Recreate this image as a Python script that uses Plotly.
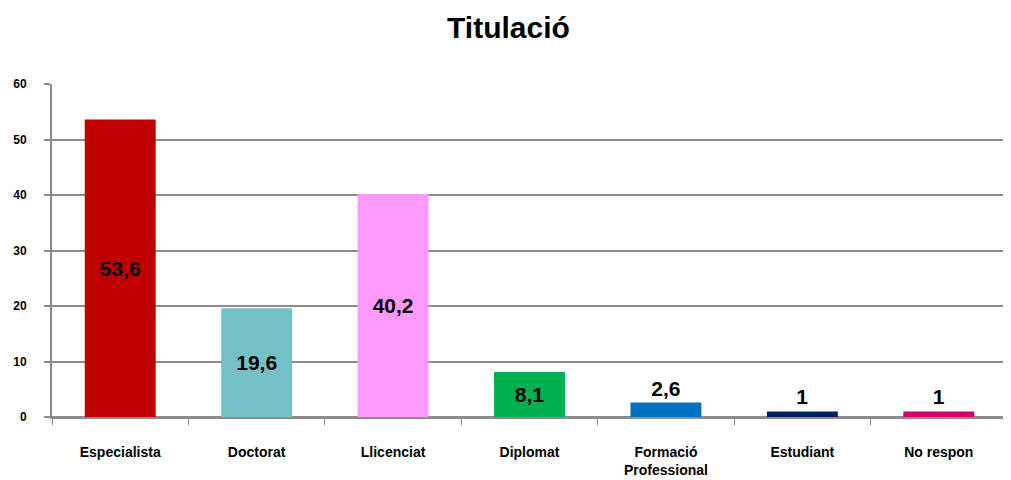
import plotly.graph_objects as go

categories = ["Especialista", "Doctorat", "Llicenciat", "Diplomat",
              "Formació<br>Professional", "Estudiant", "No respon"]
values = [53.6, 19.6, 40.2, 8.1, 2.6, 1, 1]
labels = ["53,6", "19,6", "40,2", "8,1", "2,6", "1", "1"]
colors = ["#C00000", "#74C0C6", "#FF99FF", "#00B050", "#0070C0", "#002060", "#D6006F"]
text_positions = ["inside", "inside", "inside", "inside", "outside", "outside", "outside"]
y_ticks = [0, 10, 20, 30, 40, 50, 60]

fig = go.Figure(go.Bar(
    x=categories, y=values, text=labels, textposition=text_positions,
    insidetextanchor="middle", marker=dict(color=colors, line=dict(width=0)),
    width=0.52, cliponaxis=False,
    textfont=dict(family="Liberation Sans", size=21, color="black", weight="bold"),
    textangle=0,
))

fig.update_layout(
    width=1003, height=472,
    margin=dict(l=44, r=4, t=76, b=63),
    paper_bgcolor="white", plot_bgcolor="white",
    title=dict(text="<b>Titulació</b>", x=0.499, xanchor="center", y=0.958, yanchor="middle",
               font=dict(family="Liberation Sans", size=30, color="black")),
    showlegend=False,
    font=dict(family="Liberation Sans", color="black"),
)
fig.update_xaxes(
    automargin=False,
    showline=True, linecolor="#8c8c8c", linewidth=2,
    ticks="outside", tickson="boundaries", ticklen=6, tickcolor="#8c8c8c", tickwidth=1,
    tickfont=dict(size=14, family="Liberation Sans", weight="bold"),
    ticklabelstandoff=21, showgrid=False,
)
fig.update_yaxes(
    automargin=False,
    range=[0, 60], tickvals=y_ticks, showline=True, linecolor="#8c8c8c", linewidth=2,
    ticks="outside", ticklen=6, tickcolor="#8c8c8c", tickwidth=2,
    showgrid=True, gridcolor="#8c8c8c", gridwidth=2,
    zeroline=True, zerolinecolor="#8c8c8c", zerolinewidth=2,
    tickfont=dict(size=12, family="Liberation Sans", weight="bold"),
    ticklabelstandoff=15,
)

fig.write_html("out.html")
